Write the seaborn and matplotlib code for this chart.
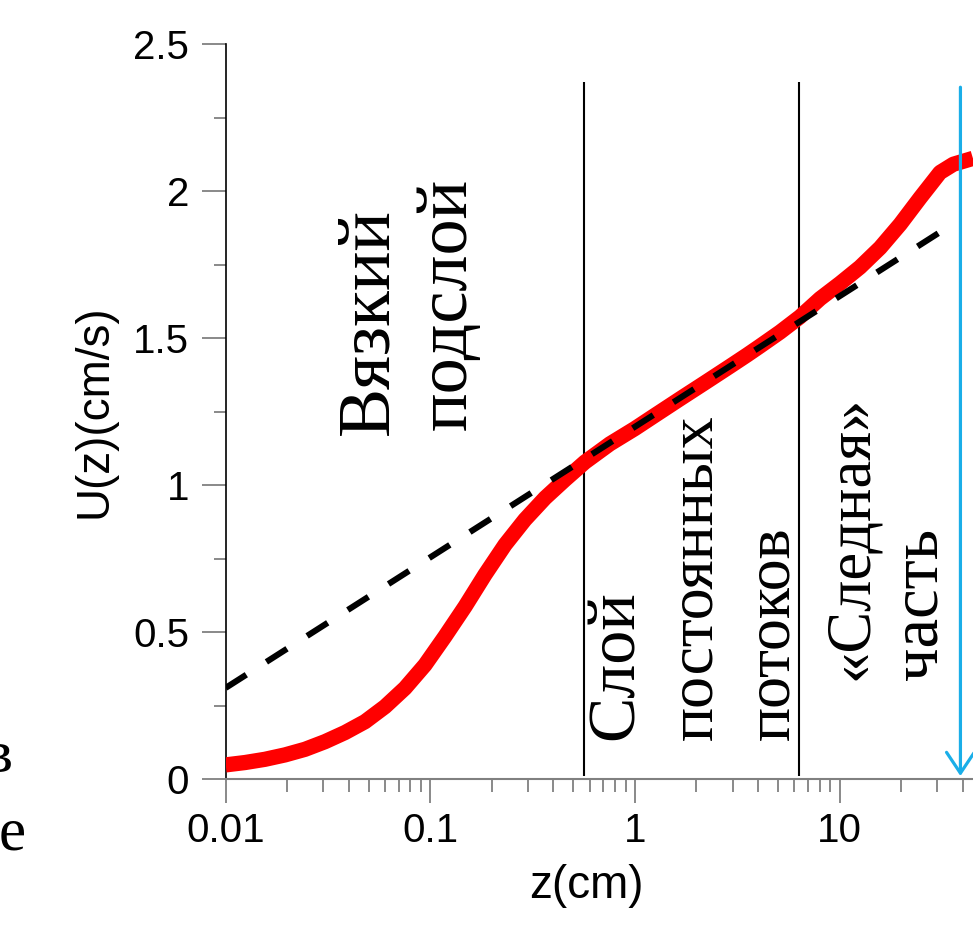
import matplotlib
matplotlib.use("Agg")
import matplotlib.pyplot as plt
import matplotlib.ticker as mticker
import seaborn as sns
import numpy as np

# ---- data ----
z_profile = [0.01, 0.01243, 0.01556, 0.0195, 0.02442, 0.03058, 0.03829, 0.04796,
             0.06006, 0.0752, 0.0942, 0.118, 0.148, 0.185, 0.232, 0.290, 0.364,
             0.455, 0.570, 0.755, 1.0, 1.253, 1.67, 2.20, 2.92, 3.53, 4.08, 5.12, 6.41,
             8.04, 10.07, 12.6, 15.8, 19.8, 24.8, 31.0, 36.0, 44.9]
u_profile = [0.048, 0.056, 0.067, 0.082, 0.101, 0.127, 0.158, 0.195,
             0.246, 0.309, 0.388, 0.485, 0.587, 0.695, 0.797, 0.882, 0.956,
             1.018, 1.078, 1.140, 1.192, 1.237, 1.294, 1.348, 1.404, 1.442, 1.472, 1.52, 1.572,
             1.634, 1.686, 1.741, 1.807, 1.887, 1.977, 2.063, 2.091, 2.111]

z_log = [0.01, 32.8]
u_log = [0.310, 1.871]

z_bounds = [0.563, 6.34]
bound_ymin = [0.01, 0.01]
bound_ymax = [2.37, 2.37]

z_arrow = 39.0
arrow_top = 2.353

x_ticks = [0.01, 0.1, 1, 10]
x_ticklabels = ["0.01", "0.1", "1", "10"]
y_ticks = [0, 0.5, 1, 1.5, 2, 2.5]
y_ticklabels = ["0", "0.5", "1", "1.5", "2", "2.5"]

x_label = "z(cm)"
y_label = "U(z)(cm/s)"

region_texts = ["Вязкий", "подслой", "Слой", "постоянных", "потоков", "«Следная»", "часть"]
# anchor positions in pixels (baseline x, start y) and sizes
region_pos = [(387, 435), (466, 430), (633, 740), (711, 740), (788, 740), (867, 680), (937, 680)]
region_size = [53, 52, 49, 46, 46, 45, 48]
cut_texts = ["в", "е"]
cut_pos = [(13, 772), (26, 850)]

# ---- figure ----
sns.set_style("white")
plt.rcParams['font.family'] = ['Liberation Sans', 'DejaVu Sans']
plt.rcParams['text.color'] = 'black'
plt.rcParams['axes.labelcolor'] = 'black'

W, H = 973, 936
fig = plt.figure(figsize=(W / 100, H / 100), dpi=100)
left, right, bottom, top = 225.7, 973, 779, 44
ax = fig.add_axes([left / W, 1 - bottom / H, (right - left) / W, (bottom - top) / H])

ax.set_xscale("log")
xmax = 10 ** ((right - left) / 204.6 - 2)
ax.set_xlim(0.01, xmax)
ax.set_ylim(0, 2.5)

sns.lineplot(x=z_log, y=u_log, ax=ax, color="black", linewidth=4.4,
             sort=False, estimator=None, zorder=4)
ax.lines[-1].set_dashes([4.0, 3.9])
sns.lineplot(x=z_profile, y=u_profile, ax=ax, color="#FF0000", linewidth=11,
             sort=False, estimator=None, zorder=3)
ax.lines[-1].set_solid_capstyle("butt")
ax.lines[-1].set_solid_joinstyle("round")

ax.vlines(z_bounds, bound_ymin, bound_ymax, colors="black", linewidth=1.5, zorder=2)

ax.annotate("", xy=(z_arrow, 0.01), xytext=(z_arrow, arrow_top),
            arrowprops=dict(arrowstyle="->,head_length=0.75,head_width=0.5",
                            color="#1AAEE8", lw=2.3, shrinkA=0, shrinkB=0,
                            mutation_scale=20),
            zorder=5, annotation_clip=False)

# spines
for s in ["top", "right"]:
    ax.spines[s].set_visible(False)
ax.spines["left"].set_color("black")
ax.spines["left"].set_linewidth(1.2)
ax.spines["bottom"].set_color("#808080")
ax.spines["bottom"].set_linewidth(1.5)

ax.set_xticks(x_ticks)
ax.set_xticklabels(x_ticklabels)
ax.xaxis.set_minor_locator(mticker.LogLocator(base=10, subs=np.arange(2, 10)))
ax.xaxis.set_minor_formatter(mticker.NullFormatter())
ax.set_yticks(y_ticks)
ax.set_yticklabels(y_ticklabels)
ax.yaxis.set_minor_locator(mticker.MultipleLocator(0.25))

ax.tick_params(axis="both", which="major", direction="out", length=17.5, width=1.3,
               color="#808080", labelsize=29, labelcolor="black")
ax.tick_params(axis="both", which="minor", direction="out", length=9, width=1.3,
               color="#808080")
ax.tick_params(axis="y", which="major", pad=9)
ax.tick_params(axis="x", which="major", pad=6)
ax.tick_params(bottom=True, left=True, which="both")

ax.set_xlabel(x_label, fontsize=33, color="black")
ax.set_ylabel(y_label, fontsize=33, color="black")
ax.xaxis.set_label_coords((586 - left) / (right - left), (bottom - 864) / (bottom - top))
ax.yaxis.set_label_coords((117 - left) / (right - left), 0.5)

serif = ['Liberation Serif', 'DejaVu Serif']
for t, (px, py), fs in zip(region_texts, region_pos, region_size):
    fig.text(px / W, 1 - py / H, t, rotation=90, rotation_mode="anchor",
             ha="left", va="baseline", fontsize=fs, family=serif, color="black")
for t, (px, py) in zip(cut_texts, cut_pos):
    fig.text(px / W, 1 - py / H, t, ha="right", va="baseline", fontsize=44,
             family=serif, color="black")

fig.savefig("out.png", dpi=100)
